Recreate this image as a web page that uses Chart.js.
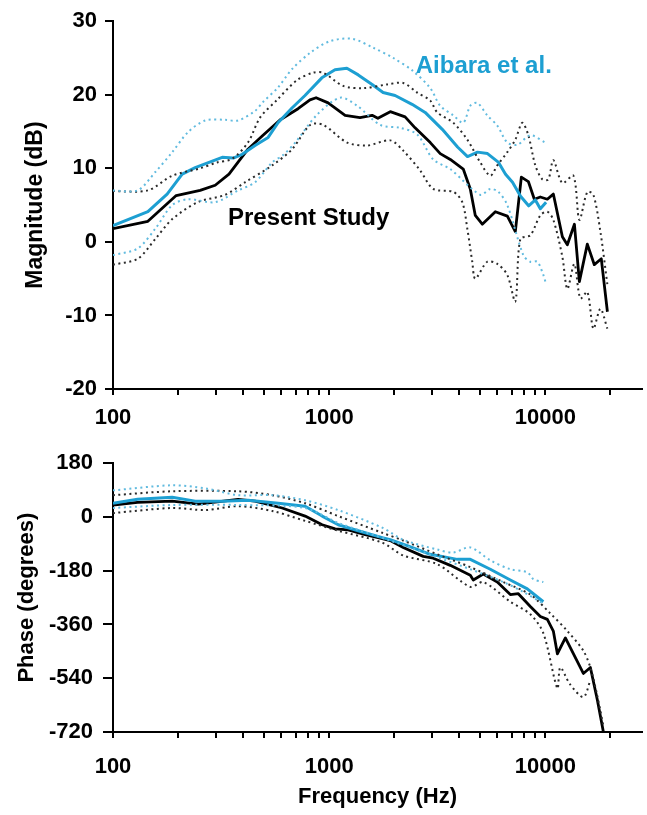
<!DOCTYPE html>
<html>
<head>
<meta charset="utf-8">
<script src="https://cdn.jsdelivr.net/npm/chart.js@4"></script>
<style>
  body { margin: 0; background: #fff; }
  canvas { position: absolute; left: 0; }
  #magChart { top: 0; }
  #phaseChart { top: 440px; }
</style>
</head>
<body>
<canvas id="magChart" width="647" height="440"></canvas>
<canvas id="phaseChart" width="647" height="375"></canvas>
<script>
// frequency ticks (log axis), only decades get a label
const freqTicks = [100,200,300,400,500,600,700,800,900,1000,2000,3000,4000,5000,6000,7000,8000,9000,10000,20000];
const freqLabels = [100, 1000, 10000];
const magTicks = [-20, -10, 0, 10, 20, 30];
const phaseTicks = [-720, -540, -360, -180, 0, 180];

// Magnitude (dB) - present study
const presMagF = [100,145,196,253,297,344,421,490,594,718,815,870,989,1185,1389,1580,1680,1917,2245,2497,2936,3264,3633,4171,4496,4742,5109,5870,6673,7264,7745,8345,8894,9476,10215,10890,11990,12640,13630,14370,15640,16850,18150,19370];
const presMag = [1.8,2.8,6.3,7.0,7.7,9.2,12.6,14.4,16.6,18.1,19.3,19.6,18.9,17.2,16.9,17.2,16.8,17.7,17.0,15.5,13.5,12.0,11.2,9.9,7.2,3.6,2.4,4.1,3.5,1.4,8.8,8.2,5.8,6.1,5.8,6.5,0.7,-0.4,2.4,-5.4,-0.3,-3.1,-2.3,-9.5];
const presHiF = [100,145,188,253,303,356,421,479,574,711,843,938,1161,1437,1855,2201,2555,2935,3162,3751,4355,5001,5564,5995,6671,7263,7825,8343,8988,9685,10325,10889,11984,13480,14370,15645,16681,17974,19364];
const presHi = [6.9,7.0,9.0,10.0,10.8,11.3,13.5,16.9,19.3,22.0,23.0,23.0,21.2,20.9,21.4,21.6,20.3,19.2,17.6,16.2,13.9,10.8,9.0,10.4,12.2,13.9,16.2,14.5,10.4,8.5,8.5,11.1,8.0,9.0,3.0,6.8,6.4,1.4,-5.8];
const presLoF = [100,130,157,188,247,330,408,545,674,817,938,1212,1499,1916,2201,2638,3030,3751,4128,4355,4592,4742,5388,5995,6671,7263,7661,8523,9482,10216,10889,11984,12643,13623,14521,15645,16681,17974,19364];
const presLo = [-3.1,-2.3,0.4,3.1,5.4,6.4,8.1,10.4,12.6,15.9,15.9,13.5,13.1,13.8,12.4,9.7,7.2,6.8,5.4,1.8,-2.7,-5.0,-2.7,-3.0,-4.5,-8.1,0.4,0.9,3.6,4.1,3.0,-2.0,-6.4,-3.0,-7.7,-6.8,-11.8,-9.1,-11.8];

// Magnitude (dB) - Aibara et al.
const aibMagF = [100,145,178,209,240,320,360,396,454,522,580,673,773,925,1064,1208,1363,1580,1776,2018,2418,2780,3336,3925,4365,4856,5400,6077,6545,7050,7680,8370,8990,9480,10080];
const aibMag = [2.2,4.1,6.5,9.2,10.1,11.5,11.4,11.9,13.1,14.2,16.2,18.2,19.9,22.3,23.4,23.6,22.7,21.4,20.3,19.9,18.7,17.6,15.3,12.9,11.6,12.2,12.0,10.8,9.2,8.1,6.2,4.9,5.7,4.5,5.4];
const aibHiF = [100,130,157,188,222,267,330,379,454,494,580,674,817,1011,1278,1598,1979,2448,2935,3265,3751,4173,4497,4844,5388,5995,6671,7420,8523,10000];
const aibHi = [7.0,7.0,9.5,12.2,14.9,16.5,16.6,16.5,17.8,19.0,21.0,23.5,25.7,27.3,27.6,26.4,25.0,23.2,20.9,18.5,17.2,16.2,18.5,18.9,17.2,15.8,13.5,13.2,14.5,13.5];
const aibLoF = [100,130,157,188,222,297,379,454,545,612,696,880,1124,1348,1722,2132,2555,3030,3633,5001,5564,6058,6671,7909,8523,9183,9789,10000];
const aibLo = [-1.8,-0.9,1.8,5.0,5.8,5.4,7.0,8.1,10.8,11.8,13.5,17.3,19.6,18.5,15.9,15.5,14.6,11.2,9.9,6.4,7.2,6.8,5.0,-1.8,-2.7,-2.7,-4.5,-5.4];

// Phase (degrees) - present study
const presPhF = [100,130,188,248,379,454,606,774,928,1066,1224,1468,1760,1916,2201,2724,3030,3633,4497,4642,5164,5995,6887,7499,8523,9482,10216,10889,11368,12380,14990,16156,17404,18560];
const presPh = [40,49,53,43,59,53,30,3,-26,-40,-43,-59,-73,-79,-102,-132,-138,-162,-195,-211,-191,-218,-260,-257,-300,-333,-343,-382,-458,-405,-524,-504,-613,-720];
const presPhHiF = [100,188,379,545,774,1101,1760,2201,3162,4497,6391,8523,10546,12643,14990,16156,17404,18560];
const presPhHi = [73,86,86,73,46,3,-53,-79,-125,-168,-218,-260,-323,-382,-448,-504,-600,-700];
const presPhLoF = [100,188,267,379,545,774,1101,1760,2201,3162,4497,5164,6887,8523,9789,11368,11731,13000,14990,16156];
const presPhLo = [13,30,23,36,20,-13,-46,-86,-129,-158,-234,-218,-284,-326,-389,-574,-504,-560,-603,-547];

// Phase (degrees) - Aibara et al.
const aibPhF = [100,130,188,240,320,422,581,774,928,1101,1362,1760,1916,2297,2935,3914,4497,5564,6887,8254,8799,9789];
const aibPh = [46,59,66,53,53,56,46,36,3,-26,-46,-69,-76,-96,-125,-142,-142,-175,-211,-241,-257,-284];
const aibPhHiF = [100,188,267,379,545,774,1101,1760,2201,3162,3751,4497,5564,6887,8254,8799,9789];
const aibPhHi = [89,106,96,73,73,56,23,-36,-76,-109,-119,-102,-145,-175,-185,-208,-218];
const aibPhLoF = [100,188,379,774,1101,1916,3162,4497,6391,7909,9789];
const aibPhLo = [30,40,40,30,-20,-79,-135,-175,-218,-251,-290];

const BLUE = '#1d9fd2';
const BLUE_DOT = '#62bbdf';
const BLACK = '#000';
const BLACK_DOT = '#2a2a2a';
const FONT = "'Liberation Sans', Arial, sans-serif";

const pts = (fs, vs) => fs.map((f, i) => ({x: f, y: vs[i]}));

function dotted(fs, vs, color) {
  return {data: pts(fs, vs), borderColor: color, borderWidth: 2, borderDash: [2, 3.5],
    pointRadius: 0, tension: 0.3, fill: false};
}
function solid(fs, vs, color, w) {
  return {data: pts(fs, vs), borderColor: color, borderWidth: w, pointRadius: 0,
    tension: 0, fill: false, borderJoinStyle: 'round'};
}

// text labels placed in data coordinates
const textPlugin = {
  id: 'notes',
  afterDatasetsDraw(chart, args, opts) {
    if (!opts.items) return;
    const ctx = chart.ctx;
    ctx.save();
    opts.items.forEach(it => {
      ctx.font = 'bold 24px ' + FONT;
      ctx.fillStyle = it.color;
      ctx.textAlign = 'center';
      ctx.textBaseline = 'middle';
      ctx.fillText(it.text, chart.scales.x.getPixelForValue(it.x), chart.scales.y.getPixelForValue(it.y));
    });
    ctx.restore();
  }
};

function xScale(tickPad, xHeight, title) {
  return {
    type: 'logarithmic', min: 100, max: 28000,
    afterBuildTicks: s => { s.ticks = freqTicks.map(v => ({value: v})); },
    afterFit: s => { s.height = xHeight; },
    ticks: {
      autoSkip: false, maxRotation: 0, minRotation: 0, padding: tickPad, color: '#000',
      font: {family: FONT, size: 22, weight: 'bold'},
      callback: v => freqLabels.includes(v) ? String(v) : ''
    },
    grid: {drawOnChartArea: false, drawTicks: true, tickLength: 6, color: '#000', lineWidth: 2},
    border: {display: true, color: '#000', width: 2},
    title: title
  };
}

function yScale(min, max, step, tickLen, tickPad, title) {
  return {
    type: 'linear', min: min, max: max,
    afterFit: s => { s.width = 113; },
    ticks: {stepSize: step, padding: tickPad, color: '#000',
      font: {family: FONT, size: 22, weight: 'bold'}},
    grid: {drawOnChartArea: false, drawTicks: true, tickLength: tickLen, color: '#000', lineWidth: 2},
    border: {display: true, color: '#000', width: 2},
    title: title
  };
}

new Chart(document.getElementById('magChart'), {
  type: 'line',
  data: {
    datasets: [
      dotted(aibHiF, aibHi, BLUE_DOT),
      dotted(aibLoF, aibLo, BLUE_DOT),
      dotted(presHiF, presHi, BLACK_DOT),
      dotted(presLoF, presLo, BLACK_DOT),
      solid(aibMagF, aibMag, BLUE, 3),
      solid(presMagF, presMag, BLACK, 2.8)
    ]
  },
  options: {
    responsive: false, animation: false, devicePixelRatio: 1,
    layout: {padding: {top: 17, right: 5, left: 0, bottom: 0}},
    plugins: {
      legend: {display: false}, tooltip: {enabled: false},
      notes: {items: [
        {text: 'Aibara et al.', x: 5190, y: 23.8, color: BLUE},
        {text: 'Present Study', x: 804, y: 3.2, color: BLACK}
      ]}
    },
    scales: {
      x: xScale(10, 51, {display: false}),
      y: yScale(-20, 30, 10, 8, 8, {display: true, text: 'Magnitude (dB)', color: '#000',
        font: {family: FONT, size: 23, weight: 'bold'}, padding: {top: 22, bottom: 0}})
    }
  },
  plugins: [textPlugin]
});

new Chart(document.getElementById('phaseChart'), {
  type: 'line',
  data: {
    datasets: [
      dotted(aibPhHiF, aibPhHi, BLUE_DOT),
      dotted(aibPhLoF, aibPhLo, BLUE_DOT),
      dotted(presPhHiF, presPhHi, BLACK_DOT),
      dotted(presPhLoF, presPhLo, BLACK_DOT),
      solid(aibPhF, aibPh, BLUE, 3),
      solid(presPhF, presPh, BLACK, 2.8)
    ]
  },
  options: {
    responsive: false, animation: false, devicePixelRatio: 1,
    layout: {padding: {top: 19, right: 5, left: 0, bottom: 0}},
    plugins: {legend: {display: false}, tooltip: {enabled: false}},
    scales: {
      x: xScale(16, 83, {display: true, text: 'Frequency (Hz)', color: '#000',
        font: {family: FONT, size: 22, weight: 'bold'}, padding: {top: 0, bottom: 5}}),
      y: yScale(-720, 180, 180, 10, 10, {display: true, text: 'Phase (degrees)', color: '#000',
        font: {family: FONT, size: 22, weight: 'bold'}, padding: {top: 14, bottom: 0}})
    }
  },
  plugins: [textPlugin]
});
</script>
</body>
</html>
